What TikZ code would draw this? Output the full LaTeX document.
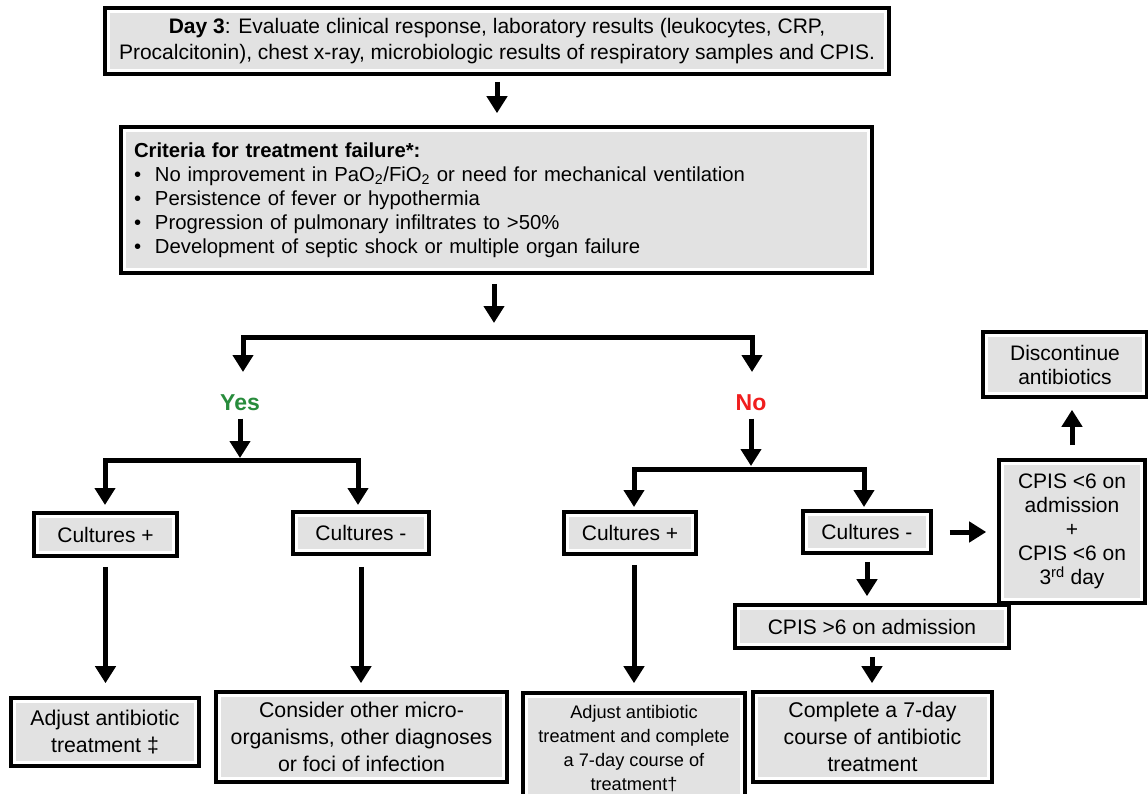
\documentclass[tikz,border=0pt]{standalone}
\usepackage{fontspec}
\setmainfont{Liberation Sans}
\usetikzlibrary{arrows.meta}
\definecolor{boxgray}{HTML}{E2E2E2}
\definecolor{yesgreen}{RGB}{40,140,60}
\definecolor{nored}{RGB}{240,30,30}
\newcommand{\blt}{\makebox[21pt][l]{\textbullet}}
\begin{document}
\begin{tikzpicture}[x=1pt,y=-1pt,
  box/.style={draw=black, line width=3.6pt, fill=white, inner sep=0pt, align=center,
    path picture={\fill[boxgray] ([shift={(4.8pt,-4.8pt)}]path picture bounding box.north west) rectangle ([shift={(-4.8pt,4.8pt)}]path picture bounding box.south east);}},
  arr/.style={line width=5pt, -{Triangle[width=20pt,length=17pt]}},
  fa/.style={font=\fontsize{21}{26}\selectfont},
  fb/.style={font=\fontsize{20.3}{24}\selectfont},
  fcult/.style={font=\fontsize{21}{24}\selectfont},
  fc/.style={font=\fontsize{21.3}{27}\selectfont},
  fd/.style={font=\fontsize{18.2}{24}\selectfont},
  fe/.style={font=\fontsize{21}{24}\selectfont},
  yn/.style={font=\bfseries\fontsize{23}{26}\selectfont},
]
\useasboundingbox (0,0) rectangle (1148,794);

% boxes
\node[box, fa, minimum width=784pt, minimum height=66pt] (top) at (497,41)
  {\textbf{Day 3}: Evaluate clinical response, laboratory results (leukocytes, CRP,\\Procalcitonin), chest x-ray, microbiologic results of respiratory samples and CPIS.};
\node[box, fb, minimum width=751pt, minimum height=146pt, text width=725pt, align=left] (crit) at (496.5,200)
  {\textbf{Criteria for treatment failure*:}\\
   \blt No improvement in PaO\textsubscript{2}/FiO\textsubscript{2} or need for mechanical ventilation\\
   \blt Persistence of fever or hypothermia\\
   \blt Progression of pulmonary infiltrates to >50\%\\
   \blt Development of septic shock or multiple organ failure};

\node[yn, text=yesgreen] (yes) at (240,403) {Yes};
\node[yn, text=nored] (no) at (751,403) {No};

\node[box, fcult, minimum width=143pt, minimum height=43pt] (cplusL) at (105.5,534.5) {Cultures +};
\node[box, fcult, minimum width=136pt, minimum height=42pt] (cminusL) at (361,533) {Cultures -};
\node[box, fcult, minimum width=132pt, minimum height=42pt] (cplusR) at (630,533) {Cultures +};
\node[box, fcult, minimum width=128pt, minimum height=42pt] (cminusR) at (867,532) {Cultures -};

\node[box, fe, minimum width=146pt, minimum height=143pt] (cpis6) at (1072,531.5)
  {CPIS <6 on\\admission\\+\\CPIS <6 on\\3\textsuperscript{rd} day};
\node[box, fe, minimum width=164pt, minimum height=65pt] (discont) at (1065,364.5)
  {Discontinue\\antibiotics};
\node[box, fe, minimum width=274pt, minimum height=43pt] (cpisgt6) at (872,626.5) {CPIS >6 on admission};

\node[box, fc, minimum width=188pt, minimum height=68pt] (adjust) at (105,732)
  {Adjust antibiotic\\treatment \textdaggerdbl};
\node[box, fc, minimum width=291pt, minimum height=90pt] (consider) at (361.5,737)
  {Consider other micro-\\organisms, other diagnoses\\or foci of infection};
\node[box, fd, minimum width=222pt, minimum height=112pt] (adjcomp) at (634,749)
  {Adjust antibiotic\\treatment and complete\\a 7-day course of\\treatment\textdagger};
\node[box, fc, minimum width=239pt, minimum height=90pt] (complete7) at (872.5,737)
  {Complete a 7-day\\course of antibiotic\\treatment};

% junction coordinates
\coordinate (stemtip) at (494,323);
\coordinate (j1) at (494,337);
\coordinate (t1L) at (243,372);
\coordinate (t1R) at (752,372);
\coordinate (y2tip) at (240,458);
\coordinate (j2) at (240,460);
\coordinate (t2L) at (105,505);
\coordinate (t2R) at (358,505);
\coordinate (n3tip) at (751,466);
\coordinate (j3) at (751,469);
\coordinate (t3L) at (634,507);
\coordinate (t3R) at (864,507);

% connectors
\draw[arr, shorten <=6pt, shorten >=12pt] (top.south) -- (top.south |- crit.north);
\draw[arr, shorten <=9pt] (crit.south -| stemtip) -- (stemtip);
\draw[arr] (j1) -| (t1L);
\draw[arr] (j1) -| (t1R);
\draw[arr, shorten <=4pt] (yes.south) -- (y2tip);
\draw[arr] (j2) -| (t2L);
\draw[arr] (j2) -| (t2R);
\draw[arr, shorten <=4pt] (no.south) -- (n3tip);
\draw[arr] (j3) -| (t3L);
\draw[arr] (j3) -| (t3R);

\draw[arr, shorten <=9pt, shorten >=13pt] (cplusL.south) -- (cplusL.south |- adjust.north);
\draw[arr, shorten <=11pt, shorten >=7pt] (cminusL.south) -- (cminusL.south |- consider.north);
\draw[arr, shorten <=9pt, shorten >=8pt] (adjcomp.north |- cplusR.south) -- (adjcomp.north);
\draw[arr, shorten <=7pt, shorten >=7pt] (cminusR.south) -- (cminusR.south |- cpisgt6.north);
\draw[arr, shorten <=7pt, shorten >=7pt] (cpisgt6.south) -- (cpisgt6.south |- complete7.north);
\draw[arr, shorten <=17pt, shorten >=11pt] (cminusR.east) -- (cminusR.east -| cpis6.west);
\draw[arr, shorten <=13pt, shorten >=11pt] (cpis6.north) -- (cpis6.north |- discont.south);
\end{tikzpicture}
\end{document}
